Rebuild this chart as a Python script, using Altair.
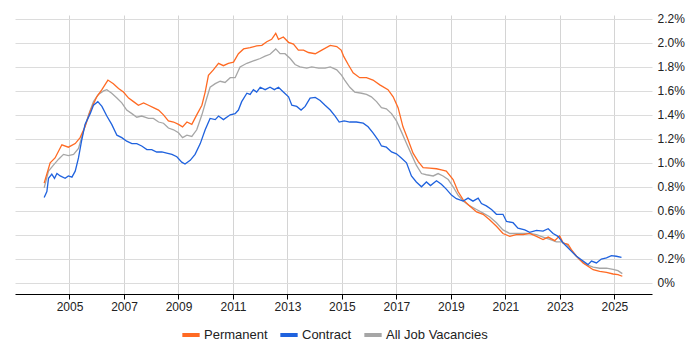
import altair as alt
import pandas as pd

# ---- data (decimal year, percent) ----
perm_year = [2004.07,2004.29,2004.47,2004.72,2004.96,2005.21,2005.39,2005.57,2005.76,2006.00,
             2006.19,2006.41,2006.61,2006.80,2006.98,2007.17,2007.35,2007.53,2007.72,2007.90,
             2008.08,2008.27,2008.45,2008.63,2008.82,2009.00,2009.15,2009.31,2009.49,2009.67,
             2009.86,2009.98,2010.10,2010.28,2010.47,2010.65,2010.83,2011.02,2011.20,2011.39,
             2011.63,2011.87,2012.06,2012.24,2012.42,2012.57,2012.67,2012.85,2013.04,2013.22,
             2013.40,2013.59,2013.77,2014.02,2014.26,2014.57,2014.81,2014.97,2015.06,2015.23,
             2015.41,2015.65,2015.90,2016.14,2016.39,2016.69,2016.88,2017.06,2017.24,2017.43,
             2017.61,2017.80,2017.98,2018.22,2018.47,2018.65,2018.83,2019.08,2019.26,2019.45,
             2019.69,2019.94,2020.18,2020.42,2020.67,2020.91,2021.16,2021.40,2021.65,2021.89,
             2022.14,2022.38,2022.57,2022.81,2022.99,2023.12,2023.30,2023.42,2023.61,2023.85,
             2024.03,2024.22,2024.46,2024.71,2024.95,2025.13,2025.29]
perm_pct = [0.83,1.00,1.04,1.15,1.13,1.16,1.21,1.30,1.43,1.55,
            1.61,1.69,1.66,1.62,1.59,1.54,1.51,1.48,1.50,1.48,
            1.46,1.44,1.40,1.35,1.34,1.32,1.30,1.34,1.32,1.40,
            1.48,1.59,1.73,1.775,1.83,1.81,1.83,1.84,1.91,1.95,
            1.96,1.975,1.98,2.01,2.03,2.08,2.03,2.05,2.005,1.99,
            1.94,1.94,1.92,1.91,1.94,1.98,1.97,1.94,1.89,1.82,
            1.75,1.71,1.71,1.69,1.65,1.61,1.55,1.46,1.30,1.19,
            1.08,1.01,0.96,0.955,0.95,0.94,0.93,0.86,0.76,0.69,
            0.64,0.59,0.57,0.525,0.47,0.41,0.386,0.40,0.40,0.41,
            0.386,0.36,0.38,0.35,0.39,0.33,0.32,0.275,0.22,0.164,
            0.136,0.108,0.094,0.086,0.072,0.067,0.053]

contract_year = [2004.07,2004.17,2004.23,2004.35,2004.45,2004.54,2004.66,2004.84,2004.96,2005.09,
                 2005.21,2005.33,2005.45,2005.57,2005.76,2005.88,2006.04,2006.19,2006.37,2006.55,
                 2006.74,2006.92,2007.10,2007.29,2007.47,2007.65,2007.84,2008.02,2008.20,2008.39,
                 2008.57,2008.76,2008.94,2009.12,2009.24,2009.43,2009.61,2009.80,2009.98,2010.16,
                 2010.35,2010.47,2010.65,2010.90,2011.08,2011.20,2011.32,2011.51,2011.63,2011.75,
                 2011.87,2012.00,2012.18,2012.36,2012.52,2012.67,2012.85,2013.04,2013.16,2013.34,
                 2013.50,2013.65,2013.83,2014.02,2014.20,2014.38,2014.57,2014.75,2014.90,2015.08,
                 2015.29,2015.53,2015.78,2015.96,2016.14,2016.33,2016.45,2016.63,2016.82,2017.00,
                 2017.18,2017.37,2017.55,2017.73,2017.92,2018.10,2018.25,2018.47,2018.65,2018.83,
                 2019.02,2019.20,2019.45,2019.63,2019.81,2020.00,2020.12,2020.30,2020.49,2020.67,
                 2020.91,2021.04,2021.28,2021.46,2021.71,2021.89,2022.14,2022.38,2022.57,2022.75,
                 2022.93,2023.12,2023.36,2023.61,2023.85,2024.03,2024.16,2024.34,2024.52,2024.71,
                 2024.89,2025.07,2025.26]
contract_pct = [0.71,0.76,0.87,0.905,0.87,0.91,0.89,0.87,0.89,0.88,
                0.93,1.04,1.19,1.32,1.41,1.48,1.51,1.47,1.39,1.32,
                1.23,1.21,1.18,1.16,1.16,1.14,1.11,1.11,1.09,1.09,
                1.08,1.07,1.05,1.005,0.99,1.02,1.07,1.16,1.275,1.37,
                1.36,1.39,1.36,1.40,1.41,1.44,1.51,1.58,1.57,1.61,
                1.59,1.63,1.61,1.63,1.61,1.63,1.59,1.55,1.48,1.47,
                1.44,1.47,1.54,1.545,1.52,1.48,1.44,1.39,1.34,1.35,
                1.34,1.34,1.33,1.30,1.25,1.19,1.14,1.13,1.09,1.075,
                1.04,1.00,0.89,0.84,0.80,0.84,0.81,0.85,0.82,0.78,
                0.73,0.70,0.68,0.705,0.68,0.705,0.66,0.64,0.61,0.57,
                0.57,0.51,0.50,0.455,0.44,0.42,0.436,0.43,0.45,0.41,
                0.386,0.33,0.275,0.22,0.18,0.15,0.18,0.164,0.197,0.206,
                0.225,0.22,0.21]

all_year = [2004.07,2004.23,2004.41,2004.60,2004.78,2004.96,2005.15,2005.33,2005.51,2005.70,
            2005.88,2006.06,2006.25,2006.37,2006.55,2006.74,2006.92,2007.10,2007.29,2007.47,
            2007.65,2007.90,2008.08,2008.27,2008.45,2008.63,2008.82,2009.00,2009.15,2009.31,
            2009.49,2009.67,2009.86,2010.04,2010.16,2010.35,2010.53,2010.71,2010.90,2011.08,
            2011.26,2011.51,2011.75,2012.00,2012.18,2012.36,2012.57,2012.73,2012.91,2013.10,
            2013.28,2013.46,2013.71,2013.89,2014.14,2014.38,2014.57,2014.81,2014.99,2015.10,
            2015.29,2015.47,2015.72,2015.90,2016.08,2016.27,2016.45,2016.63,2016.82,2017.00,
            2017.18,2017.37,2017.55,2017.73,2017.92,2018.10,2018.35,2018.53,2018.71,2018.90,
            2019.08,2019.26,2019.45,2019.69,2019.94,2020.18,2020.42,2020.67,2020.91,2021.16,
            2021.40,2021.65,2021.89,2022.14,2022.38,2022.63,2022.87,2023.06,2023.24,2023.48,
            2023.73,2023.97,2024.22,2024.46,2024.71,2024.95,2025.13,2025.29]
all_pct = [0.79,0.93,0.98,1.03,1.07,1.06,1.07,1.12,1.26,1.40,
           1.51,1.57,1.60,1.61,1.58,1.54,1.50,1.44,1.41,1.38,
           1.39,1.37,1.37,1.34,1.33,1.29,1.275,1.25,1.21,1.23,
           1.22,1.275,1.40,1.54,1.63,1.66,1.68,1.67,1.71,1.71,
           1.80,1.83,1.85,1.87,1.89,1.905,1.95,1.91,1.91,1.87,
           1.82,1.80,1.79,1.80,1.79,1.79,1.80,1.775,1.73,1.69,
           1.63,1.59,1.58,1.57,1.55,1.51,1.46,1.45,1.41,1.35,
           1.26,1.16,1.07,0.98,0.91,0.90,0.89,0.91,0.89,0.86,
           0.80,0.73,0.68,0.64,0.61,0.58,0.55,0.50,0.44,0.41,
           0.41,0.41,0.41,0.40,0.38,0.36,0.34,0.34,0.32,0.25,
           0.19,0.15,0.13,0.12,0.12,0.11,0.10,0.075]

series_names = ["Permanent", "Contract", "All Job Vacancies"]
series_colors = ["#ff6a23", "#1f62de", "#a6a6a6"]
x_ticks = [2005, 2007, 2009, 2011, 2013, 2015, 2017, 2019, 2021, 2023, 2025]
y_ticks = [0, 0.2, 0.4, 0.6, 0.8, 1.0, 1.2, 1.4, 1.6, 1.8, 2.0, 2.2]

# drawing order: grey first, then permanent, then contract on top
frames = [
    pd.DataFrame({"year": all_year, "pct": all_pct, "series": "All Job Vacancies"}),
    pd.DataFrame({"year": perm_year, "pct": perm_pct, "series": "Permanent"}),
    pd.DataFrame({"year": contract_year, "pct": contract_pct, "series": "Contract"}),
]
df = pd.concat(frames, ignore_index=True)

FONT = "Liberation Sans"

chart = alt.Chart(df).mark_line(strokeWidth=1.3).encode(
    x=alt.X("year:Q",
            scale=alt.Scale(domain=[2003.0, 2026.38], nice=False, zero=False),
            axis=alt.Axis(values=x_ticks, format="d", title=None, grid=True,
                          gridColor="#d4d4d4", domainColor="#000000", tickColor="#000000",
                          tickSize=5, labelPadding=2, labelFontSize=12, labelFont=FONT,
                          labelColor="#222222", labelFlush=False)),
    y=alt.Y("pct:Q",
            scale=alt.Scale(domain=[-0.095, 2.233], nice=False, zero=False),
            axis=alt.Axis(orient="right", values=y_ticks, title=None, domain=False,
                          ticks=False, tickSize=0, labelPadding=5, gridColor="#dcdcdc",
                          labelFontSize=12, labelFont=FONT, labelColor="#222222",
                          labelExpr="datum.value == 0 ? '0%' : format(datum.value, '.1f') + '%'")),
    color=alt.Color("series:N",
                    scale=alt.Scale(domain=series_names, range=series_colors),
                    legend=alt.Legend(title=None, orient="none", legendX=165, legendY=309,
                                      direction="horizontal", symbolType="stroke",
                                      symbolSize=300, symbolStrokeWidth=4, labelOffset=2,
                                      columnPadding=4, labelFontSize=13, labelFont=FONT,
                                      labelColor="#222222")),
).properties(
    width=637, height=279,
    autosize=alt.AutoSizeParams(type="none"),
    padding={"left": 7, "top": 7, "right": 40, "bottom": 52},
).configure_view(stroke=None)

chart.save("out.html", embed_options={"renderer": "svg", "actions": False})
